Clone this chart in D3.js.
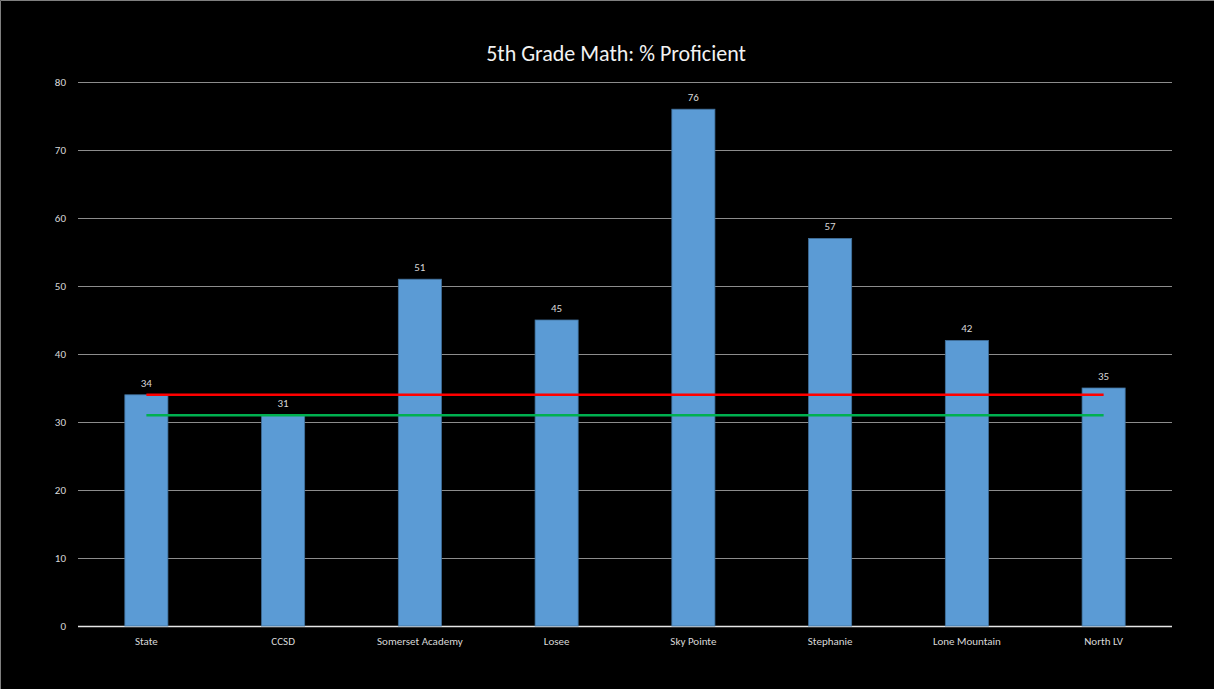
<!DOCTYPE html>
<html>
<head>
<meta charset="utf-8">
<script src="https://cdn.jsdelivr.net/npm/d3@7"></script>
<style>
  html, body { margin: 0; padding: 0; background: #000; }
  svg { display: block; }
</style>
</head>
<body>
<script>
const width = 1214;
const height = 689;
const margin = { top: 82, right: 42, bottom: 63, left: 78 };

const schools = ['State', 'CCSD', 'Somerset Academy', 'Losee', 'Sky Pointe', 'Stephanie', 'Lone Mountain', 'North LV'];
const proficient = [34, 31, 51, 45, 76, 57, 42, 35];
const stateLine = [34, 34, 34, 34, 34, 34, 34, 34];
const ccsdLine = [31, 31, 31, 31, 31, 31, 31, 31];
const yTicks = [0, 10, 20, 30, 40, 50, 60, 70, 80];

const font = "Calibri, Carlito, Lato, 'Open Sans', sans-serif";

const svg = d3.select('body')
  .append('svg')
    .attr('width', width)
    .attr('height', height)
    .style('background', '#000');

// faint frame on the top/left edges
svg.append('path')
  .attr('d', `M0.5,${height} V0.5 H${width}`)
  .attr('fill', 'none')
  .attr('stroke', '#7f7f7f')
  .attr('stroke-width', 1);

const x = d3.scaleBand()
  .domain(schools)
  .range([margin.left, width - margin.right])
  .paddingInner(0.685)
  .paddingOuter(0.3425);

const y = d3.scaleLinear()
  .domain([0, 80])
  .range([height - margin.bottom, margin.top]);

svg.append('text')
  .attr('x', 616)
  .attr('y', 61)
  .attr('text-anchor', 'middle')
  .attr('fill', '#f2f2f2')
  .style('font-family', font)
  .style('font-size', '22px')
  .text('5th Grade Math: % Proficient');

// y axis with gridlines
const yAxis = svg.append('g')
  .attr('transform', `translate(${margin.left},0)`)
  .call(d3.axisLeft(y)
    .tickValues(yTicks)
    .tickSizeInner(-(width - margin.left - margin.right))
    .tickSizeOuter(0)
    .tickPadding(12));

yAxis.select('.domain').remove();
yAxis.selectAll('.tick line')
  .attr('stroke', (d) => d === 0 ? '#e6e6e6' : '#8c8c8c')
  .attr('stroke-width', (d) => d === 0 ? 1.5 : 1.2);
yAxis.selectAll('.tick text')
  .attr('fill', '#d9d9d9')
  .style('font-family', font)
  .style('font-size', '11px');

// bars
svg.append('g')
  .selectAll('rect')
  .data(proficient)
  .join('rect')
    .attr('x', (d, i) => x(schools[i]))
    .attr('y', (d) => y(d))
    .attr('width', x.bandwidth())
    .attr('height', (d) => y(0) - y(d))
    .attr('fill', '#5b9bd5')
    .attr('stroke', '#41719c')
    .attr('stroke-width', 0.8);

// bar labels
svg.append('g')
  .selectAll('text')
  .data(proficient)
  .join('text')
    .attr('x', (d, i) => x(schools[i]) + x.bandwidth() / 2)
    .attr('y', (d) => y(d) - 8)
    .attr('text-anchor', 'middle')
    .attr('fill', '#d9d9d9')
    .style('font-family', font)
    .style('font-size', '11px')
    .text((d) => d);

// reference lines
const line = d3.line()
  .x((d, i) => x(schools[i]) + x.bandwidth() / 2)
  .y((d) => y(d));

svg.append('path')
  .attr('d', line(stateLine))
  .attr('fill', 'none')
  .attr('stroke', '#ff0000')
  .attr('stroke-width', 2.5);

svg.append('path')
  .attr('d', line(ccsdLine))
  .attr('fill', 'none')
  .attr('stroke', '#00b050')
  .attr('stroke-width', 2.5);

// x axis labels
const xAxis = svg.append('g')
  .attr('transform', `translate(0,${y(0)})`)
  .call(d3.axisBottom(x).tickSize(0).tickPadding(11));

xAxis.select('.domain').remove();
xAxis.selectAll('.tick text')
  .attr('fill', '#d9d9d9')
  .style('font-family', font)
  .style('font-size', '11px');
</script>
</body>
</html>
